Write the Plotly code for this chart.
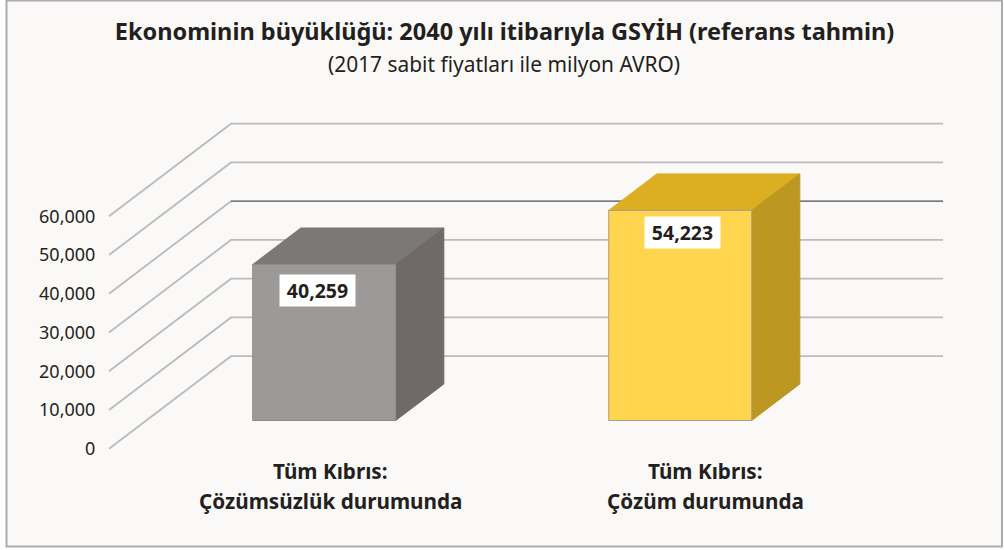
import plotly.graph_objects as go

# --- data ---
categories = ["Tüm Kıbrıs:<br>Çözümsüzlük durumunda", "Tüm Kıbrıs:<br>Çözüm durumunda"]
values = [40259, 54223]
value_labels = ["40,259", "54,223"]
tick_values = [0, 10000, 20000, 30000, 40000, 50000, 60000]
tick_labels = ["0", "10,000", "20,000", "30,000", "40,000", "50,000", "60,000"]
title_text = "Ekonominin büyüklüğü: 2040 yılı itibarıyla GSYİH (referans tahmin)"
subtitle_text = "(2017 sabit fiyatları ile milyon AVRO)"

# --- layout constants (pixels) ---
W, H = 1004, 550
L, R, T, B = 102, 950, 100, 460      # plot area edges
PX_PER_UNIT = 38.75 / 10000          # px per value unit
PX_PER_CAT = 356.0                   # px between categories
Y0 = 448.7                           # px of value 0 in front plane
X0 = 324.2                           # px of first category at bar front plane
SHEAR = 122 / 92.5                   # x px per y px of depth
D_BAR_FRONT, D_BAR_BACK, D_WALL = 28.2, 64.7, 92.5
HALF = 71.5 / PX_PER_CAT
GRID_X = [(231 - X0) / PX_PER_CAT, (943 - X0) / PX_PER_CAT]


def proj(x, v, d):
    return (x + (d - D_BAR_FRONT) * SHEAR / PX_PER_CAT, v + d / PX_PER_UNIT)


FONT = "Noto Sans"
INK = "#231F20"
fig = go.Figure()

# grid: floor-to-wall oblique then along the back wall
for v in tick_values:
    wall_y = v + D_WALL / PX_PER_UNIT
    front_x = GRID_X[0] - D_WALL * SHEAR / PX_PER_CAT
    fig.add_trace(go.Scatter(
        x=[front_x, GRID_X[0], GRID_X[1]], y=[v, wall_y, wall_y],
        mode="lines", showlegend=False, hoverinfo="skip",
        line=dict(color="#BABBBD", width=1.8)))
    if v == 40000:
        fig.add_trace(go.Scatter(
            x=GRID_X, y=[wall_y, wall_y],
            mode="lines", showlegend=False, hoverinfo="skip",
            line=dict(color="#77787B", width=1.4)))

bar_colors = [
    dict(front="#9C9A98", top="#7C7875", side="#6F6967", edge="#8F8C8A"),
    dict(front="#FFD44F", top="#DCAF23", side="#BC9823", edge="#A8A08A"),
]


def face(points, fill, edge):
    xs = [p[0] for p in points] + [points[0][0]]
    ys = [p[1] for p in points] + [points[0][1]]
    fig.add_trace(go.Scatter(x=xs, y=ys, mode="lines", fill="toself", fillcolor=fill,
                             line=dict(color=edge, width=1), showlegend=False,
                             hoverinfo="skip"))


for i, (v, c) in enumerate(zip(values, bar_colors)):
    xl, xr = i - HALF, i + HALF
    face([proj(xl, v, D_BAR_FRONT), proj(xr, v, D_BAR_FRONT),
          proj(xr, v, D_BAR_BACK), proj(xl, v, D_BAR_BACK)], c["top"], c["top"])
    face([proj(xr, 0, D_BAR_FRONT), proj(xr, v, D_BAR_FRONT),
          proj(xr, v, D_BAR_BACK), proj(xr, 0, D_BAR_BACK)], c["side"], c["side"])
    face([proj(xl, 0, D_BAR_FRONT), proj(xr, 0, D_BAR_FRONT),
          proj(xr, v, D_BAR_FRONT), proj(xl, v, D_BAR_FRONT)], c["front"], c["edge"])

annotations = []
label_dx = [-6.7, 2.3]
label_dy = [-26, -22.5]
for i, (v, t) in enumerate(zip(values, value_labels)):
    px, py = proj(i, v, D_BAR_FRONT)
    annotations.append(dict(x=px, y=py, xref="x", yref="y", text=f"<b>{t}</b>", showarrow=False,
                            xshift=label_dx[i], yshift=label_dy[i], yanchor="middle", xanchor="center",
                            width=73, height=29, bgcolor="#FFFFFF", align="center", valign="middle",
                            font=dict(family=FONT, size=19.5, color=INK)))

# category labels, one annotation per line
line_cx = [[330, 330], [705, 705]]
for i, cat in enumerate(categories):
    for j, line in enumerate(cat.split("<br>")):
        annotations.append(dict(xref="paper", yref="paper",
                                x=(line_cx[i][j] - L) / (R - L),
                                y=1 - ((471 + j * 30) - T) / (B - T),
                                text=f"<b>{line}</b>", showarrow=False,
                                xanchor="center", yanchor="middle",
                                font=dict(family=FONT, size=20.7, color=INK)))

annotations.append(dict(xref="paper", yref="paper",
                        x=(504 - L) / (R - L), y=1 - (64 - T) / (B - T),
                        text=subtitle_text, showarrow=False, xanchor="center", yanchor="middle",
                        font=dict(family=FONT, size=20.9, color=INK)))

fig.update_layout(
    width=W, height=H, autosize=False,
    margin=dict(l=L, r=W - R, t=T, b=H - B, pad=0),
    paper_bgcolor="#FFFFFF", plot_bgcolor="rgba(0,0,0,0)",
    showlegend=False,
    title=dict(text=f"<b>{title_text}</b>", x=504.5 / W, xanchor="center", xref="container",
               y=1 - 32 / H, yanchor="middle", yref="container",
               font=dict(family=FONT, size=23.5, color=INK)),
    xaxis=dict(range=[(L - X0) / PX_PER_CAT, (R - X0) / PX_PER_CAT], visible=False, fixedrange=True),
    yaxis=dict(range=[(Y0 - B) / PX_PER_UNIT, (Y0 - T) / PX_PER_UNIT], tickmode="array",
               tickvals=tick_values, ticktext=tick_labels, showgrid=False, zeroline=False,
               showline=False, ticks="outside", ticklen=2, tickcolor="rgba(0,0,0,0)",
               tickfont=dict(family=FONT, size=18, color=INK), fixedrange=True),
    annotations=annotations,
    shapes=[dict(type="rect", xref="paper", yref="paper", layer="below",
                 x0=(6.5 - L) / (R - L), x1=(1002 - L) / (R - L),
                 y0=1 - (546.5 - T) / (B - T), y1=1 - (0.5 - T) / (B - T),
                 fillcolor="#FAF9F7", line=dict(color="#A9ABAE", width=2))],
)

fig.write_html("out.html", config=dict(displayModeBar=False),
               post_script="document.body.style.margin='0';")
